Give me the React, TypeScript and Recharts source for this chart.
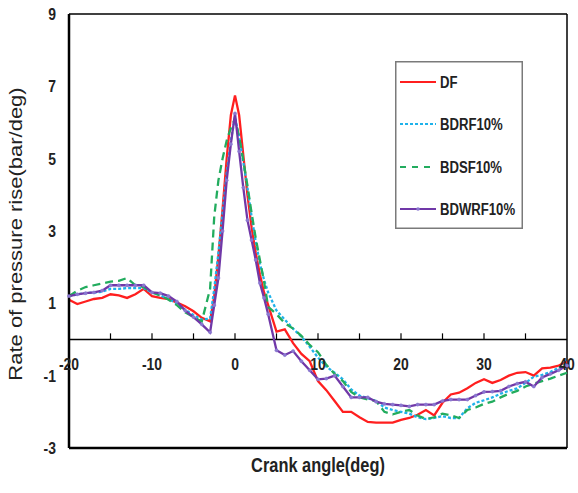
import {
  Legend,
  Line,
  LineChart,
  ReferenceDot,
  ReferenceLine,
  XAxis,
  YAxis,
} from 'recharts';

const FONT = "'Liberation Sans', Arial, sans-serif";
const SQUEEZE = 0.82;

// crank angle (deg), finer around TDC where the curves change fast
const angles = [
  -20, -19, -18, -17, -16, -15, -14, -13, -12, -11, -10, -9, -8, -7, -6, -5, -4,
  -3, -2.5, -2, -1.5, -1, -0.5, 0, 0.5, 1, 1.5, 2, 2.5, 3, 3.5, 4,
  5, 6, 7, 8, 9, 10, 11, 12, 13, 14, 15, 16, 17, 18, 19, 20, 21, 22, 23, 24, 25, 26, 27, 28, 29,
  30, 31, 32, 33, 34, 35, 36, 37, 38, 39, 40,
];

const dfRate = [
  1.1, 0.98, 1.05, 1.12, 1.15, 1.25, 1.22, 1.15, 1.25, 1.4, 1.2, 1.15, 1.12, 1.02, 0.92, 0.78, 0.6,
  0.5, 1.2, 2.3, 3.6, 5.0, 6.2, 6.75, 6.2, 5.1, 4.0, 3.1, 2.4, 1.8, 1.3, 0.95,
  0.22, 0.28, -0.1, -0.4, -0.6, -1.15, -1.4, -1.7, -2.0, -2.0, -2.15, -2.28, -2.3, -2.3, -2.3, -2.22, -2.17, -2.08, -1.95, -2.1, -1.75, -1.52, -1.47, -1.35, -1.2,
  -1.1, -1.2, -1.12, -1.0, -0.92, -0.9, -1.0, -0.8, -0.78, -0.72, -0.62,
];

const bdrfRate = [
  1.2, 1.25, 1.28, 1.3, 1.32, 1.4, 1.4, 1.42, 1.42, 1.42, 1.3, 1.22, 1.12, 1.0, 0.82, 0.68, 0.55,
  0.58, 1.4, 2.4, 3.5, 4.6, 5.5, 6.15, 5.6, 4.9, 4.2, 3.4, 2.7, 2.1, 1.65, 1.3,
  0.8, 0.55, 0.3, 0.08, -0.2, -0.5, -0.75, -0.92, -1.1, -1.38, -1.55, -1.62, -1.7, -1.88, -1.95, -2.0, -2.05, -2.15, -2.2, -2.17, -2.12, -2.17, -2.17, -1.9, -1.75,
  -1.68, -1.6, -1.5, -1.42, -1.35, -1.2, -1.03, -0.98, -0.9, -0.78, -0.65,
];

const bdsfRate = [
  1.2, 1.35, 1.45, 1.5, 1.55, 1.6, 1.62, 1.7, 1.5, 1.45, 1.3, 1.22, 1.1, 0.95, 0.75, 0.62, 0.5,
  1.4, 3.4, 4.4, 5.0, 5.5, 5.85, 6.1, 5.6, 4.95, 4.25, 3.5, 2.8, 2.2, 1.6, 0.9,
  0.7, 0.45, 0.3, 0.1, -0.15, -0.35, -0.7, -0.95, -1.15, -1.45, -1.6, -1.66, -1.7, -2.0, -2.07, -2.0, -1.95, -2.1, -2.2, -2.15, -2.05, -2.1, -2.17, -1.95, -1.88,
  -1.78, -1.72, -1.6, -1.5, -1.42, -1.3, -1.22, -1.15, -1.08, -1.0, -0.92,
];

const bdwrfRate = [
  1.2, 1.25, 1.28, 1.3, 1.35, 1.5, 1.5, 1.5, 1.5, 1.5, 1.3, 1.28, 1.2, 1.05, 0.8, 0.62, 0.42,
  0.2, 0.95, 1.7, 3.0, 4.4, 5.4, 6.25, 5.2, 4.2, 3.3, 2.75, 2.2, 1.56, 1.15, 0.7,
  -0.3, -0.43, -0.32, -0.6, -0.85, -1.1, -1.08, -1.0, -1.3, -1.6, -1.6, -1.6, -1.72, -1.78, -1.8, -1.82, -1.85, -1.8, -1.8, -1.8, -1.7, -1.66, -1.66, -1.66, -1.55,
  -1.45, -1.44, -1.42, -1.3, -1.22, -1.17, -1.3, -1.05, -0.95, -0.85, -0.72,
];

const yTicks = [-3, -1, 1, 3, 5, 7, 9];
const xTickLabels = [-20, -10, 0, 10, 20, 30, 40];
const xTickMarks = [-15, -10, -5, 0, 5, 10, 15, 20, 25, 30, 35];

const series = [
  { key: 'DF', name: 'DF', color: '#ff1f1f', dash: undefined, dots: false },
  { key: 'BDRF', name: 'BDRF10%', color: '#1fb2ea', dash: '3 2', dots: false },
  { key: 'BDSF', name: 'BDSF10%', color: '#22ac5e', dash: '8 5', dots: false },
  { key: 'BDWRF', name: 'BDWRF10%', color: '#7038a8', dash: undefined, dots: true },
];

const data = angles.map((angle, i) => ({
  angle,
  DF: dfRate[i],
  BDRF: bdrfRate[i],
  BDSF: bdsfRate[i],
  BDWRF: bdwrfRate[i],
}));

function YTick({ x, y, payload }: any) {
  return (
    <text
      transform={`translate(${x},${y}) scale(${SQUEEZE},1)`}
      textAnchor="end"
      dy="0.36em"
      fontFamily={FONT}
      fontWeight="bold"
      fontSize={17}
      fill="#222"
    >
      {payload.value}
    </text>
  );
}

function YTitle() {
  return (
    <text
      transform={`translate(22,234) scale(${SQUEEZE},1) rotate(-90)`}
      textAnchor="middle"
      fontFamily={FONT}
      fontSize={22}
      fill="#222"
    >
      Rate of pressure rise(bar/deg)
    </text>
  );
}

function XTitle({ viewBox }: any) {
  const cx = viewBox.x + viewBox.width / 2;
  return (
    <text
      transform={`translate(${cx},${viewBox.y + 24}) scale(${SQUEEZE},1)`}
      textAnchor="middle"
      fontFamily={FONT}
      fontWeight="bold"
      fontSize={20}
      fill="#222"
    >
      Crank angle(deg)
    </text>
  );
}

function xTickShape(value: number) {
  return ({ cx, cy }: any) => (
    <text
      transform={`translate(${cx},${cy + 24}) scale(${SQUEEZE},1)`}
      textAnchor="middle"
      dy="0.36em"
      fontFamily={FONT}
      fontWeight="bold"
      fontSize={17}
      fill="#222"
    >
      {value}
    </text>
  );
}

function LegendBox() {
  const rows = [21, 63, 106, 148];
  return (
    <svg width={128} height={168} style={{ display: 'block' }}>
      <rect x={0.75} y={0.75} width={126.5} height={166.5} fill="#fff" stroke="#7a7a7a" strokeWidth={1.5} />
      {series.map((s, i) => (
        <g key={s.key}>
          <line
            x1={5}
            x2={41}
            y1={rows[i]}
            y2={rows[i]}
            stroke={s.color}
            strokeWidth={2.2}
            strokeDasharray={s.key === 'BDSF' ? '6 6' : s.dash}
          />
          {s.dots && <circle cx={23} cy={rows[i]} r={1.8} fill="#8a78d0" />}
          <text
            transform={`translate(45,${rows[i]}) scale(${SQUEEZE},1)`}
            dy="0.36em"
            fontFamily={FONT}
            fontWeight="bold"
            fontSize={16}
            fill="#222"
          >
            {s.name}
          </text>
        </g>
      ))}
    </svg>
  );
}

export default function App() {
  return (
    <div style={{ position: 'absolute', left: 0, top: 0, width: 578, height: 493, background: '#fff' }}>
      <LineChart width={578} height={493} data={data} margin={{ top: 14, right: 11, bottom: 45, left: 29 }}>
        <XAxis type="number" dataKey="angle" domain={[-20, 40]} hide />
        <YAxis
          type="number"
          domain={[-3, 9]}
          ticks={yTicks}
          interval={0}
          width={40}
          tickSize={0}
          tickMargin={13}
          axisLine={{ stroke: '#000', strokeWidth: 2.5 }}
          tick={<YTick />}
          label={<YTitle />}
        />
        <ReferenceLine y={9} stroke="#000" strokeWidth={1.5} />
        <ReferenceLine x={40} stroke="#000" strokeWidth={1.5} />
        <ReferenceLine y={-3} stroke="#000" strokeWidth={2.5} label={<XTitle />} />
        <ReferenceLine y={0} stroke="#000" strokeWidth={1.5} />
        {xTickMarks.map((v) => (
          <ReferenceLine
            key={`m${v}`}
            segment={[{ x: v, y: 0 }, { x: v, y: 0.17 }]}
            stroke="#000"
            strokeWidth={1.2}
          />
        ))}
        {series.map((s) => (
          <Line
            key={s.key}
            type="linear"
            dataKey={s.key}
            name={s.name}
            stroke={s.color}
            strokeWidth={2.3}
            strokeDasharray={s.dash}
            dot={s.dots ? { r: 1.6, fill: '#8a78d0', stroke: '#8a78d0', strokeWidth: 0.5 } : false}
            activeDot={false}
            isAnimationActive={false}
          />
        ))}
        {xTickLabels.map((v) => (
          <ReferenceDot key={`t${v}`} x={v} y={0} r={0} shape={xTickShape(v)} />
        ))}
        <Legend
          layout="horizontal"
          verticalAlign="middle"
          align="center"
          content={() => <LegendBox />}
          wrapperStyle={{ position: 'absolute', left: 395, top: 61, width: 128, height: 168 }}
        />
      </LineChart>
    </div>
  );
}
